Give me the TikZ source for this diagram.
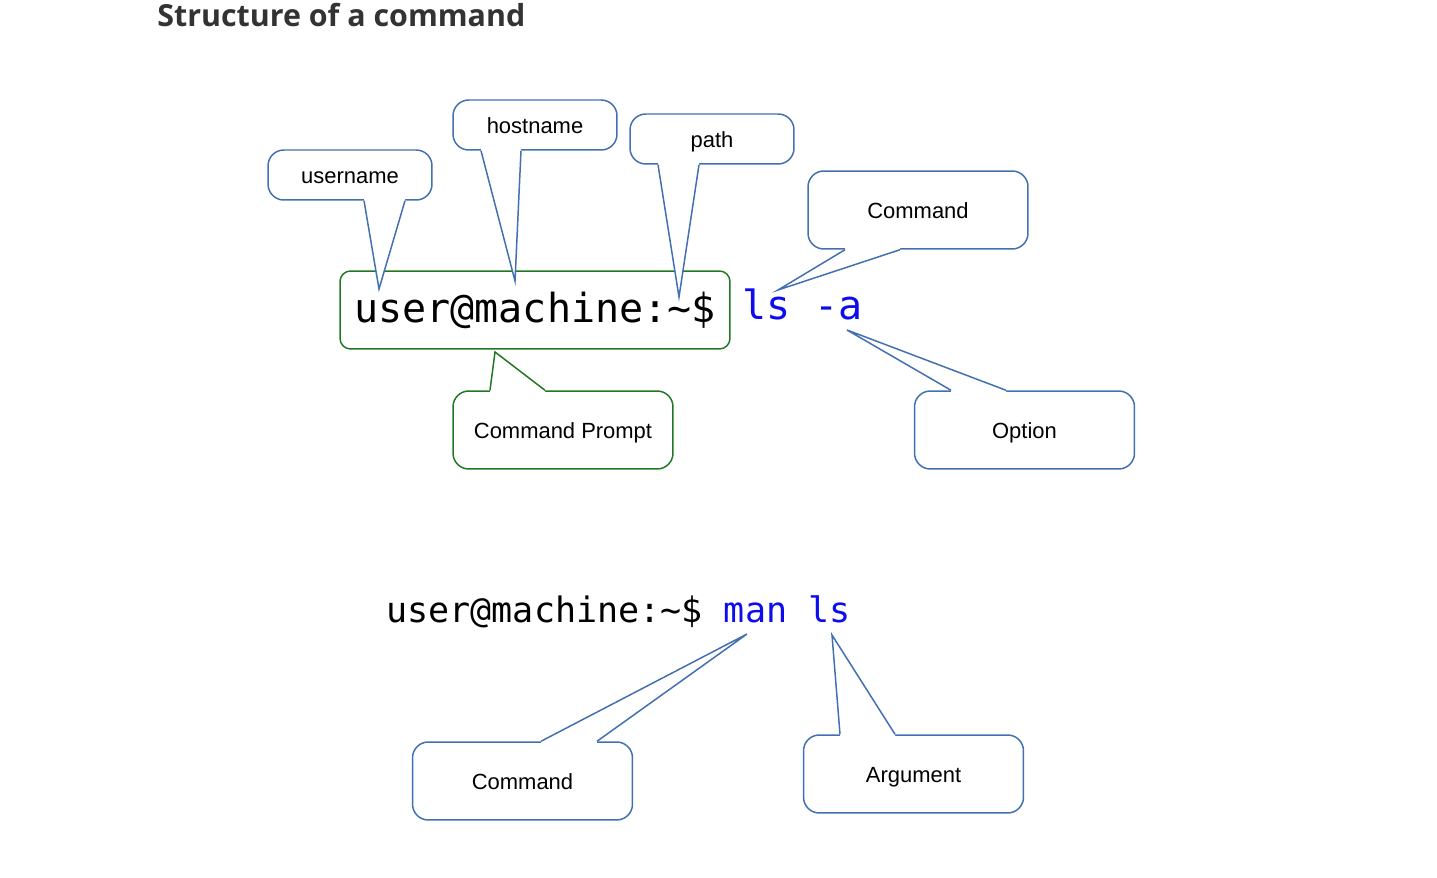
\documentclass[tikz,border=0pt]{standalone}
\usepackage{fontspec}
\setmainfont{Liberation Sans}
\newfontfamily\terminal{DejaVu Sans Mono}
\newfontfamily\titulo{Open Sans}
\usepackage{xcolor}
\usepackage{tikz}
\usetikzlibrary{calc}

\definecolor{azulborda}{RGB}{66,112,176}
\definecolor{verdeborda}{RGB}{34,120,34}
\definecolor{azultexto}{RGB}{12,12,238}
\definecolor{cinzatitulo}{RGB}{51,51,51}

\begin{document}
\begin{tikzpicture}[x=0.02cm, y=-0.02cm,
        balao/.style={draw=azulborda, line width=0.85pt, rounded corners=9pt, inner sep=0pt,
            text height=9.8pt, text depth=0pt, font=\fontsize{12.5}{15}\selectfont},
        pequeno/.style={minimum width=3.28cm, minimum height=1cm},
        grande/.style={minimum width=4.4cm, minimum height=1.56cm},
        termo/.style={inner sep=0pt, anchor=base west, font=\terminal\fontsize{#1}{#1}\selectfont}
    ]
    \useasboundingbox (0,0) rectangle (1437,878);

    % Título
    \node[anchor=base west, inner sep=0pt, text=cinzatitulo,
        font=\titulo\bfseries\fontsize{17.3}{21}\selectfont] (tit) at (157,27) {Structure of a command};

    % Linha de comando de cima
    \node[draw=verdeborda, line width=0.85pt, rounded corners=6pt, inner sep=0pt,
        minimum width=7.8cm, minimum height=1.56cm, font=\terminal\fontsize{22.8}{26}\selectfont]
        (prompt) at (535,310) {user@machine:\textasciitilde\$};
    \node[termo=22.8, text=azultexto] (lsa) at (742,320) {ls -a};

    % Linha de comando de baixo
    \node[termo=19.95] (linha) at (386,622) {user@machine:\textasciitilde\$ \textcolor{azultexto}{man ls}};

    % Balões
    \node[balao, pequeno] (usuario) at (350,175) {username};
    \node[balao, pequeno] (host) at (535,125) {hostname};
    \node[balao, pequeno] (caminho) at (712,139) {path};
    \node[balao, grande] (cmd) at (918,210) {Command};
    \node[balao, grande, draw=verdeborda] (rotprompt) at (563,430) {Command Prompt};
    \node[balao, grande] (opcao) at (1024.5,430) {Option};
    \node[balao, grande] (cmdb) at (522.5,781) {Command};
    \node[balao, grande] (arg) at (913.5,774) {Argument};

    % Pontas dos balões
    \coordinate (pu) at (379,289);
    \coordinate (ph) at (515,281);
    \coordinate (pc) at (679,297);
    \coordinate (pls) at (778,290);
    \coordinate (pp) at (495,352);
    \coordinate (pa) at (847,330);
    \coordinate (pman) at (747,634);
    \coordinate (parg) at (832,635);

    \foreach \caixa/\lado/\xa/\xb/\ponta/\cor in {usuario/south/364/405/pu/azulborda,
            host/south/481/521/ph/azulborda, caminho/south/658/699/pc/azulborda,
            cmd/south/845/900/pls/azulborda, rotprompt/north/490/545/pp/verdeborda,
            opcao/north/951/1006/pa/azulborda, cmdb/north/541/597/pman/azulborda,
            arg/north/840/895/parg/azulborda} {
        \fill[white] ($(\xa,0 |- \caixa.\lado)!0.1!(\xa,0 |- \caixa.center)$)
            -- (\xa,0 |- \caixa.\lado) -- (\ponta) -- (\xb,0 |- \caixa.\lado)
            -- ($(\xb,0 |- \caixa.\lado)!0.1!(\xb,0 |- \caixa.center)$) -- cycle;
        \draw[\cor, line width=0.85pt] (\xa,0 |- \caixa.\lado) -- (\ponta) -- (\xb,0 |- \caixa.\lado);
    }
\end{tikzpicture}
\end{document}
